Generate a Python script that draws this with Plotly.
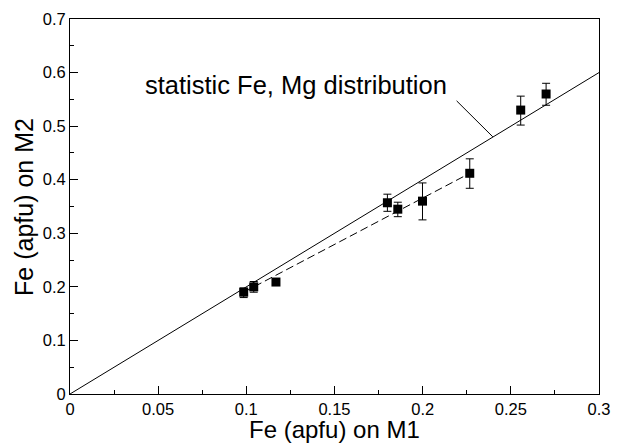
import plotly.graph_objects as go

# measured Fe on M1 / M2 sites (apfu)
fe_m1 = [0.0985, 0.1042, 0.1168, 0.180, 0.1859, 0.1999, 0.2267, 0.2556, 0.270]
fe_m2 = [0.190, 0.200, 0.209, 0.357, 0.345, 0.360, 0.412, 0.530, 0.560]
err_plus = [0.008, 0.010, 0.005, 0.016, 0.013, 0.034, 0.027, 0.026, 0.020]
err_minus = [0.010, 0.010, 0.005, 0.016, 0.014, 0.035, 0.028, 0.028, 0.021]

# statistic (random) Fe, Mg distribution line
stat_x = [0.0, 0.3]
stat_y = [0.0, 0.6]

# dashed trend through the lower group
trend_x = [0.0985, 0.2267]
trend_y = [0.190, 0.412]

label_text = "statistic Fe, Mg distribution"
leader_from = (0.2184, 0.550)
leader_to = (0.2398, 0.480)

font = "Liberation Sans, Arial, Helvetica, sans-serif"

fig = go.Figure()
fig.add_trace(go.Scatter(x=stat_x, y=stat_y, mode="lines",
                         line=dict(color="black", width=1), showlegend=False))
fig.add_trace(go.Scatter(x=trend_x, y=trend_y, mode="lines",
                         line=dict(color="black", width=1, dash="8px,4px"), showlegend=False))
fig.add_trace(go.Scatter(
    x=fe_m1, y=fe_m2, mode="markers",
    marker=dict(symbol="square", size=9, color="black"),
    error_y=dict(type="data", symmetric=False, array=err_plus, arrayminus=err_minus,
                 color="black", thickness=1, width=4),
    showlegend=False,
))

fig.add_annotation(x=0.128, y=0.576, xref="x", yref="y", text=label_text,
                   showarrow=False, font=dict(size=25.5, color="black", family=font))
fig.add_annotation(x=leader_to[0], y=leader_to[1], ax=leader_from[0], ay=leader_from[1],
                   xref="x", yref="y", axref="x", ayref="y", text="",
                   showarrow=True, arrowhead=0, arrowwidth=1, arrowcolor="black")

# axis titles placed as paper annotations
fig.add_annotation(x=0.5, y=-0.094, xref="paper", yref="paper", yanchor="middle",
                   text="Fe (apfu) on M1", showarrow=False,
                   font=dict(size=24, color="black", family=font))
fig.add_annotation(x=-0.088, y=0.5, xref="paper", yref="paper", xanchor="center",
                   text="Fe (apfu) on M2", showarrow=False, textangle=-90,
                   font=dict(size=25, color="black", family=font))

axis_common = dict(
    showline=True, linecolor="black", linewidth=1, mirror=True,
    ticks="inside", ticklen=8, tickwidth=1, tickcolor="black",
    showgrid=False, zeroline=False, automargin=False,
    tickfont=dict(size=16.5, color="black", family=font),
    minor=dict(ticks="inside", ticklen=4, tickwidth=1, tickcolor="black", showgrid=False),
)

fig.update_xaxes(range=[0, 0.3], dtick=0.05, minor_dtick=0.025, ticklabelstandoff=0, **axis_common)
fig.update_yaxes(range=[0, 0.7], dtick=0.1, minor_dtick=0.05, ticklabelstandoff=0, **axis_common)

# page body adds an 8px margin, so the figure is 8px smaller and shifted
fig.update_layout(
    width=614, height=435,
    margin=dict(l=62, r=23, t=11, b=49),
    paper_bgcolor="white", plot_bgcolor="white",
    font=dict(family=font, color="black"),
)

fig.write_html("out.html")
